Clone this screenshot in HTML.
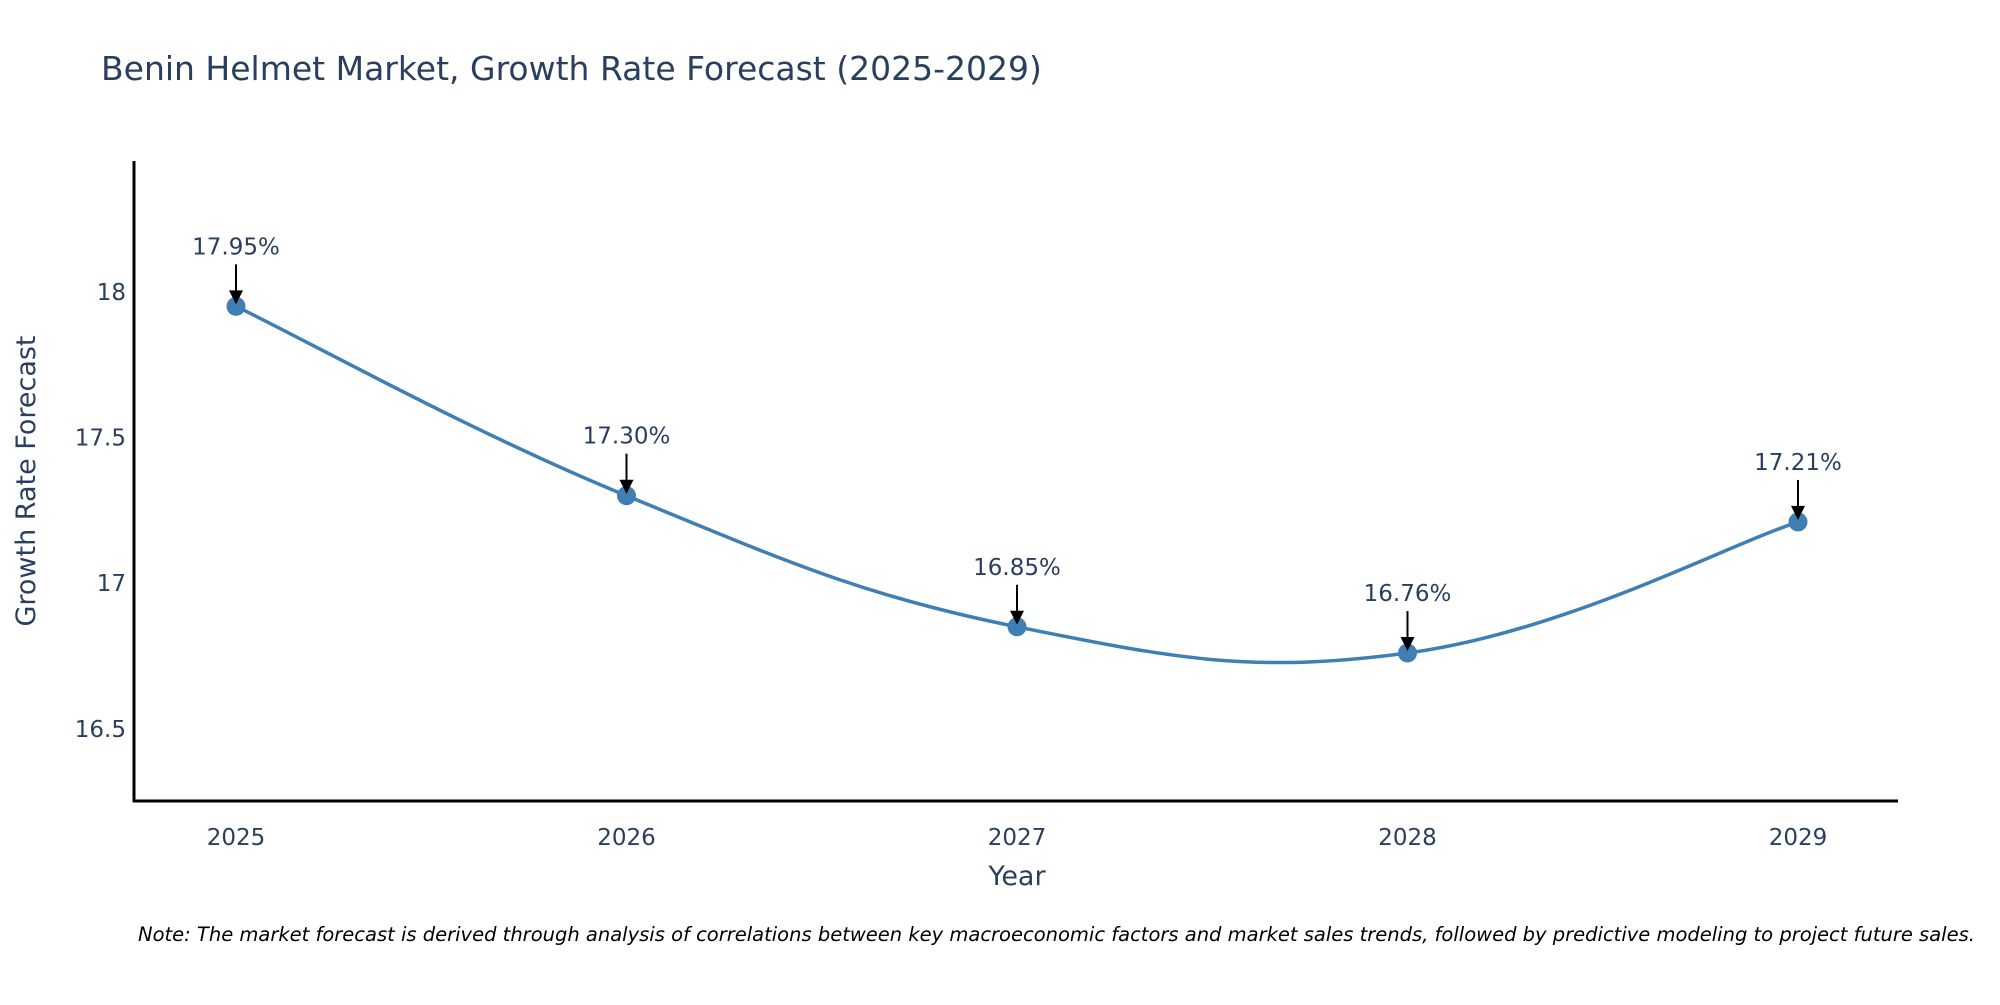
<!DOCTYPE html>
<html><head><meta charset="utf-8"><style>
body{margin:0;background:#fff;}
svg text{font-family:"DejaVu Sans","Liberation Sans",sans-serif;fill:#2a3f5f;}
</style></head><body>
<svg id="chart" width="2000" height="1000" xmlns="http://www.w3.org/2000/svg">
<text x="101" y="80" font-size="33">Benin Helmet Market, Growth Rate Forecast (2025-2029)</text>
<g id="plot"></g>
<text x="1017" y="885" font-size="27" text-anchor="middle">Year</text>
<text transform="translate(35,481) rotate(-90)" font-size="27" text-anchor="middle">Growth Rate Forecast</text>
<text x="138" y="941" font-size="19.5" font-style="italic" style="fill:#000">Note: The market forecast is derived through analysis of correlations between key macroeconomic factors and market sales trends, followed by predictive modeling to project future sales.</text>
</svg>
<script>
const years = [2025, 2026, 2027, 2028, 2029];
const values = [17.95, 17.30, 16.85, 16.76, 17.21];
const labels = ["17.95%", "17.30%", "16.85%", "16.76%", "17.21%"];
const yTicks = [16.5, 17, 17.5, 18];
const yTickLabels = ["16.5", "17", "17.5", "18"];

const NS = "http://www.w3.org/2000/svg";
const g = document.getElementById('plot');
const L = 134, R = 1898, T = 161, B = 801;
const yMin = 16.252, yMax = 18.449;
function xs(yr){ return 236 + (yr - 2025) * 390.5; }
function ys(v){ return B - (v - yMin) / (yMax - yMin) * (B - T); }
function mk(tag, attrs){ const e = document.createElementNS(NS, tag); for (const k in attrs) e.setAttribute(k, attrs[k]); g.appendChild(e); return e; }

let ax = mk('line', {x1:L, y1:T, x2:L, y2:B+1, stroke:'#000', 'stroke-width':3});


ax = mk('line', {x1:L-1, y1:B, x2:R, y2:B, stroke:'#000', 'stroke-width':3});



yTicks.forEach((v, i) => {
  const t = mk('text', {x:L-8, y:ys(v)+8, 'font-size':23, 'text-anchor':'end'});
  t.textContent = yTickLabels[i];
  
  
});
years.forEach(yr => {
  const t = mk('text', {x:xs(yr), y:B+44, 'font-size':23, 'text-anchor':'middle'});
  t.textContent = String(yr);
  
  
});

const pts = years.map((yr, i) => [xs(yr), ys(values[i])]);
let d = `M${pts[0][0]},${pts[0][1]}`;
const s = 0.2;
for (let i = 0; i < pts.length - 1; i++) {
  const p0 = pts[Math.max(i-1,0)], p1 = pts[i], p2 = pts[i+1], p3 = pts[Math.min(i+2, pts.length-1)];
  const c1 = [p1[0] + (p2[0]-p0[0])*s, p1[1] + (p2[1]-p0[1])*s];
  const c2 = [p2[0] - (p3[0]-p1[0])*s, p2[1] - (p3[1]-p1[1])*s];
  d += ` C${c1[0]},${c1[1]} ${c2[0]},${c2[1]} ${p2[0]},${p2[1]}`;
}
const line = mk('path', {d:d, fill:'none', stroke:'#3f7fb3', 'stroke-width':3.5});



pts.forEach((p, i) => {
  const c = mk('circle', {cx:p[0], cy:p[1], r:9.5, fill:'#3f7fb3'});
  
  
  const a = mk('line', {x1:p[0], y1:p[1]-42, x2:p[0], y2:p[1]-14, stroke:'#000', 'stroke-width':2});
  
  
  const h = mk('polygon', {points:`${p[0]-7},${p[1]-16} ${p[0]+7},${p[1]-16} ${p[0]},${p[1]-2}`, fill:'#000'});
  
  
  const t = mk('text', {x:p[0], y:p[1]-52, 'font-size':23, 'text-anchor':'middle'});
  t.textContent = labels[i];
  
  
});
</script>
</body></html>
